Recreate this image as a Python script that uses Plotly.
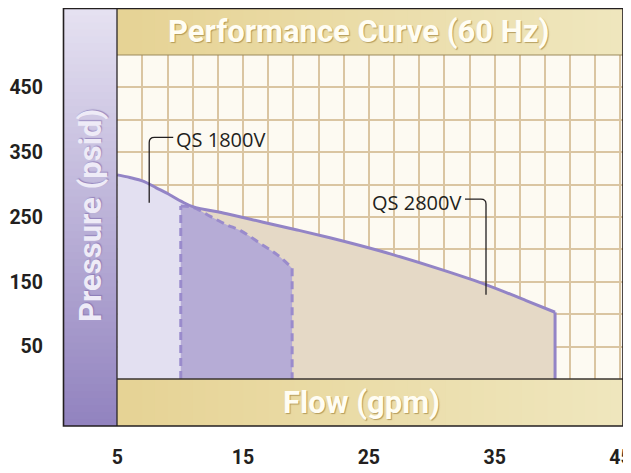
import plotly.graph_objects as go

# ---------------- data ----------------
qs1800_flow = [5.0, 6.0, 7.1, 8.1, 9.2, 10.1, 11.0]
qs1800_psid = [315, 311, 305, 295, 284, 274, 266]

qs1800_range_flow = [10.05, 11.0, 12.4, 13.7, 14.8, 16.3, 17.7, 18.9]
qs1800_range_psid = [267, 265, 251, 238, 229, 210, 192, 171]

qs2800_flow = [11.0, 13.7, 16.6, 19.3, 21.9, 24.3, 26.9, 30.9, 34.4, 37.5, 39.8]
qs2800_psid = [266, 255, 242, 230, 218, 206, 192, 168, 145, 121, 103]

x_tick_vals = [5, 15, 25, 35, 45]
x_tick_text = ["5", "15", "25", "35", "45"]
y_tick_vals = [50, 150, 250, 350, 450]
y_tick_text = ["50", "150", "250", "350", "450"]

series_names = ["QS 1800V", "QS 2800V"]
title_text = "Performance Curve (60 Hz)"
x_title = "Flow (gpm)"
y_title = "Pressure (psid)"

# ---------------- layout geometry ----------------
# the page body adds an 8 px margin; positions below are window pixels
OFF = 8
WIN_W, WIN_H = 631, 473
W, H = WIN_W - OFF, WIN_H - OFF
PLOT_L, PLOT_T, PLOT_R, PLOT_B = 117, 55, 623, 379
FRAME_L, FRAME_T, FRAME_R, FRAME_B = 63.5, 8.5, 623, 426
L = PLOT_L - OFF
T = PLOT_T - OFF
R = W - (PLOT_R - OFF)
B = H - (PLOT_B - OFF)
PW, PH = PLOT_R - PLOT_L, PLOT_B - PLOT_T


def px(xp):
    return (xp - PLOT_L) / PW


def py(yp):
    return (PLOT_B - yp) / PH


def lerp_color(c1, c2, t):
    a = [int(c1[i:i + 2], 16) for i in (1, 3, 5)]
    b = [int(c2[i:i + 2], 16) for i in (1, 3, 5)]
    return "#%02x%02x%02x" % tuple(round(a[k] + (b[k] - a[k]) * t) for k in range(3))


COND = "Roboto, Liberation Sans, sans-serif"
LAV = "#e3e0f1"
DARK = "#b6acd6"
BEIGE = "#e5d9c6"
LINE = "#9384c6"
DASH = "#9a8bcc"

fig = go.Figure()

# fills
fig.add_trace(go.Scatter(x=qs1800_flow, y=qs1800_psid, mode="lines", fill="tozeroy",
                         fillcolor=LAV, line=dict(width=0, shape="spline", color=LAV),
                         hoverinfo="skip", showlegend=False))
fig.add_trace(go.Scatter(x=qs2800_flow, y=qs2800_psid, mode="lines", fill="tozeroy",
                         fillcolor=BEIGE, line=dict(width=0, shape="spline", color=BEIGE),
                         hoverinfo="skip", showlegend=False))
fig.add_trace(go.Scatter(x=qs1800_range_flow, y=qs1800_range_psid, mode="lines", fill="tozeroy",
                         fillcolor=DARK, line=dict(width=3, shape="spline", color=DASH, dash="8px,5px"),
                         hoverinfo="skip", showlegend=False))
# dashed verticals of the 1800V range
fig.add_trace(go.Scatter(x=[qs1800_range_flow[0]] * 2, y=[0, qs1800_range_psid[0]], mode="lines",
                         line=dict(width=3, color=DASH, dash="8px,5px"),
                         hoverinfo="skip", showlegend=False))
fig.add_trace(go.Scatter(x=[qs1800_range_flow[-1]] * 2, y=[qs1800_range_psid[-1], 0], mode="lines",
                         line=dict(width=3, color=DASH, dash="8px,5px"),
                         hoverinfo="skip", showlegend=False))
# solid envelope
fig.add_trace(go.Scatter(x=qs1800_flow + qs2800_flow[1:], y=qs1800_psid + qs2800_psid[1:],
                         mode="lines", line=dict(width=3, color=LINE, shape="spline"),
                         hoverinfo="skip", showlegend=False))
fig.add_trace(go.Scatter(x=[qs2800_flow[-1]] * 2, y=[qs2800_psid[-1], 0], mode="lines",
                         line=dict(width=3, color=LINE),
                         hoverinfo="skip", showlegend=False))

shapes = []
# left purple band (vertical gradient)
N = 60
hstep = (FRAME_B - FRAME_T) / N
for i in range(N):
    y0 = FRAME_T + i * hstep
    shapes.append(dict(type="rect", xref="paper", yref="paper", layer="above",
                       x0=px(FRAME_L), x1=px(PLOT_L), y0=py(min(y0 + hstep + 1, FRAME_B)), y1=py(y0),
                       fillcolor=lerp_color("#e5e1f1", "#9283bf", i / (N - 1)), line=dict(width=0)))
# top and bottom banners (horizontal gradient)
M = 40
wstep = (FRAME_R - PLOT_L) / M
for i in range(M):
    x0 = PLOT_L + i * wstep
    col = lerp_color("#e6d395", "#efe6bd", i / (M - 1))
    shapes.append(dict(type="rect", xref="paper", yref="paper", layer="above",
                       x0=px(x0), x1=px(min(x0 + wstep + 1, FRAME_R)), y0=py(PLOT_T), y1=py(FRAME_T),
                       fillcolor=col, line=dict(width=0)))
    shapes.append(dict(type="rect", xref="paper", yref="paper", layer="above",
                       x0=px(x0), x1=px(min(x0 + wstep + 1, FRAME_R)), y0=py(FRAME_B), y1=py(PLOT_B),
                       fillcolor=col, line=dict(width=0)))
# separator lines
shapes.append(dict(type="line", xref="paper", yref="paper", layer="above",
                   x0=px(PLOT_L), x1=px(FRAME_R), y0=py(PLOT_T), y1=py(PLOT_T),
                   line=dict(color="#9c8a5c", width=1.2)))
shapes.append(dict(type="line", xref="paper", yref="paper", layer="above",
                   x0=px(PLOT_L), x1=px(FRAME_R), y0=py(PLOT_B), y1=py(PLOT_B),
                   line=dict(color="#3a3530", width=1.3)))
shapes.append(dict(type="line", xref="paper", yref="paper", layer="above",
                   x0=px(PLOT_L), x1=px(PLOT_L), y0=py(FRAME_T), y1=py(FRAME_B),
                   line=dict(color="#2a2628", width=1.3)))
# outer frame
shapes.append(dict(type="rect", xref="paper", yref="paper", layer="above",
                   x0=px(FRAME_L), x1=px(FRAME_R), y0=py(FRAME_B), y1=py(FRAME_T),
                   line=dict(color="#231f20", width=1.6), fillcolor="rgba(0,0,0,0)"))

# leader lines (data coordinates)
shapes.append(dict(type="path", xref="x", yref="y", layer="above",
                   path="M 9.45,373 L 7.95,373 Q 7.54,373 7.54,365 L 7.54,272",
                   line=dict(color="#231f20", width=1.3)))
shapes.append(dict(type="path", xref="x", yref="y", layer="above",
                   path="M 32.64,277.5 L 33.9,277.5 Q 34.31,277.5 34.31,270 L 34.31,130",
                   line=dict(color="#231f20", width=1.3)))

banner_font = dict(family=COND, size=31, color="#fffdf3", weight="bold",
                   shadow="1px 1px 1px rgba(160,130,60,0.7)")
annotations = [
    dict(text=title_text, xref="paper", yref="paper", x=px(358), y=py((FRAME_T + PLOT_T) / 2),
         xanchor="center", yanchor="middle", showarrow=False, font=banner_font),
    dict(text=x_title, xref="paper", yref="paper", x=px(361), y=py((PLOT_B + FRAME_B) / 2),
         xanchor="center", yanchor="middle", showarrow=False, font=banner_font),
    dict(text=y_title, xref="paper", yref="paper", x=px(90), y=py(216), textangle=-90,
         xanchor="center", yanchor="middle", showarrow=False,
         font=dict(family=COND, size=31, color="#eeebf7", weight="bold",
                   shadow="1px 1px 1px rgba(120,100,170,0.6)")),
    dict(text=series_names[0], xref="x", yref="y", x=9.5, y=369, xanchor="left", yanchor="middle",
         showarrow=False, font=dict(family="Open Sans, sans-serif", size=20, color="#231f20")),
    dict(text=series_names[1], xref="x", yref="y", x=32.5, y=272, xanchor="right", yanchor="middle",
         showarrow=False, font=dict(family="Open Sans, sans-serif", size=20, color="#231f20")),
]

GRID = "#dac5a2"
tick_font = dict(family=COND, size=19.5, color="#231f20", weight="bold")
fig.update_layout(
    width=W, height=H,
    margin=dict(l=L, r=R, t=T, b=B),
    paper_bgcolor="white", plot_bgcolor="#fdfaf2",
    shapes=shapes, annotations=annotations, showlegend=False,
    xaxis=dict(range=[4.98, 45.2], tickvals=x_tick_vals, ticktext=x_tick_text,
               showgrid=True, gridcolor=GRID, gridwidth=1.5, zeroline=False, showline=False,
               ticks="", ticklabelstandoff=64, automargin=False, tickfont=tick_font,
               ticklabeloverflow="allow",
               minor=dict(tick0=5, dtick=2, showgrid=True, gridcolor=GRID, gridwidth=1.5),
               fixedrange=True),
    yaxis=dict(range=[0, 500], tickvals=y_tick_vals, ticktext=y_tick_text,
               showgrid=True, gridcolor=GRID, gridwidth=1.5, zeroline=False, showline=False,
               ticks="", ticklabelstandoff=73, automargin=False, tickfont=tick_font,
               ticklabeloverflow="allow",
               minor=dict(tick0=0, dtick=50, showgrid=True, gridcolor=GRID, gridwidth=1.5),
               fixedrange=True),
)

fig.write_html("out.html")
